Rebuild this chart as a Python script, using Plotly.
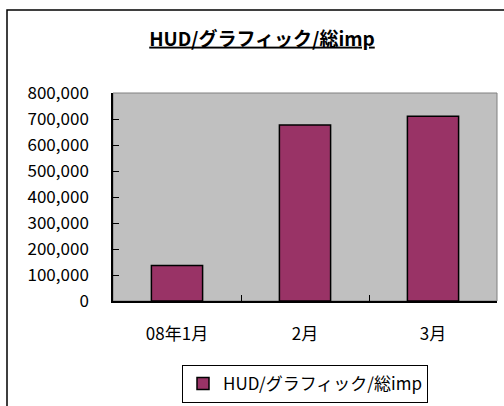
import plotly.graph_objects as go

categories = ["08年1月", "2月", "3月"]
values = [137000, 677000, 711000]
series_name = "HUD/グラフィック/総imp"
title_text = "HUD/グラフィック/総imp"

FONT = "Noto Sans CJK JP"
W, H = 504, 406
L, R, T, B = 113, 7, 93, 105
pw, ph = W - L - R, H - T - B

def px_x(x):
    return (x - L) / pw

def px_y(y):
    return (H - B - y) / ph

fig = go.Figure()
fig.add_trace(go.Bar(
    x=categories, y=values, name=series_name,
    marker=dict(color="#993366", line=dict(color="#000000", width=1.5)),
    showlegend=True,
))

fig.update_layout(
    width=W, height=H,
    margin=dict(l=L, r=R, t=T, b=B, autoexpand=False),
    paper_bgcolor="white",
    plot_bgcolor="#C0C0C0",
    font=dict(family=FONT, size=17, color="black"),
    bargap=0.6,
    title=dict(
        text="<u><b>" + title_text + "</b></u>",
        x=262 / W, xanchor="center", xref="container",
        y=1 - 39 / H, yanchor="middle", yref="container",
        font=dict(family=FONT, size=19, color="black"),
    ),
    legend=dict(
        x=px_x(182), y=px_y(365), xanchor="left", yanchor="top",
        bordercolor="black", borderwidth=1, bgcolor="white",
        itemwidth=30,
        font=dict(family=FONT, size=17),
    ),
    xaxis=dict(
        showline=True, linecolor="black", linewidth=1.5,
        ticks="inside", tickson="boundaries", ticklen=6, tickcolor="black",
        showgrid=False, ticklabelstandoff=17,
        tickfont=dict(size=17),
    ),
    yaxis=dict(
        range=[0, 800000], dtick=100000, tickformat=",",
        showline=True, linecolor="black", linewidth=1.5,
        ticks="inside", ticklen=6, tickcolor="black",
        showgrid=False, zeroline=False, ticklabelstandoff=19,
        tickfont=dict(size=17),
    ),
    shapes=[
        dict(type="rect", xref="paper", yref="paper", x0=0, x1=1, y0=0, y1=1,
             line=dict(color="#808080", width=1), layer="below"),
        dict(type="rect", xref="paper", yref="paper",
             x0=px_x(7), x1=px_x(540), y0=px_y(10), y1=px_y(440),
             line=dict(color="black", width=1.5), layer="above"),
    ],
)

fig.write_html(
    "out.html",
    config={"displayModeBar": False},
    post_script="document.body.style.margin='0';",
)
